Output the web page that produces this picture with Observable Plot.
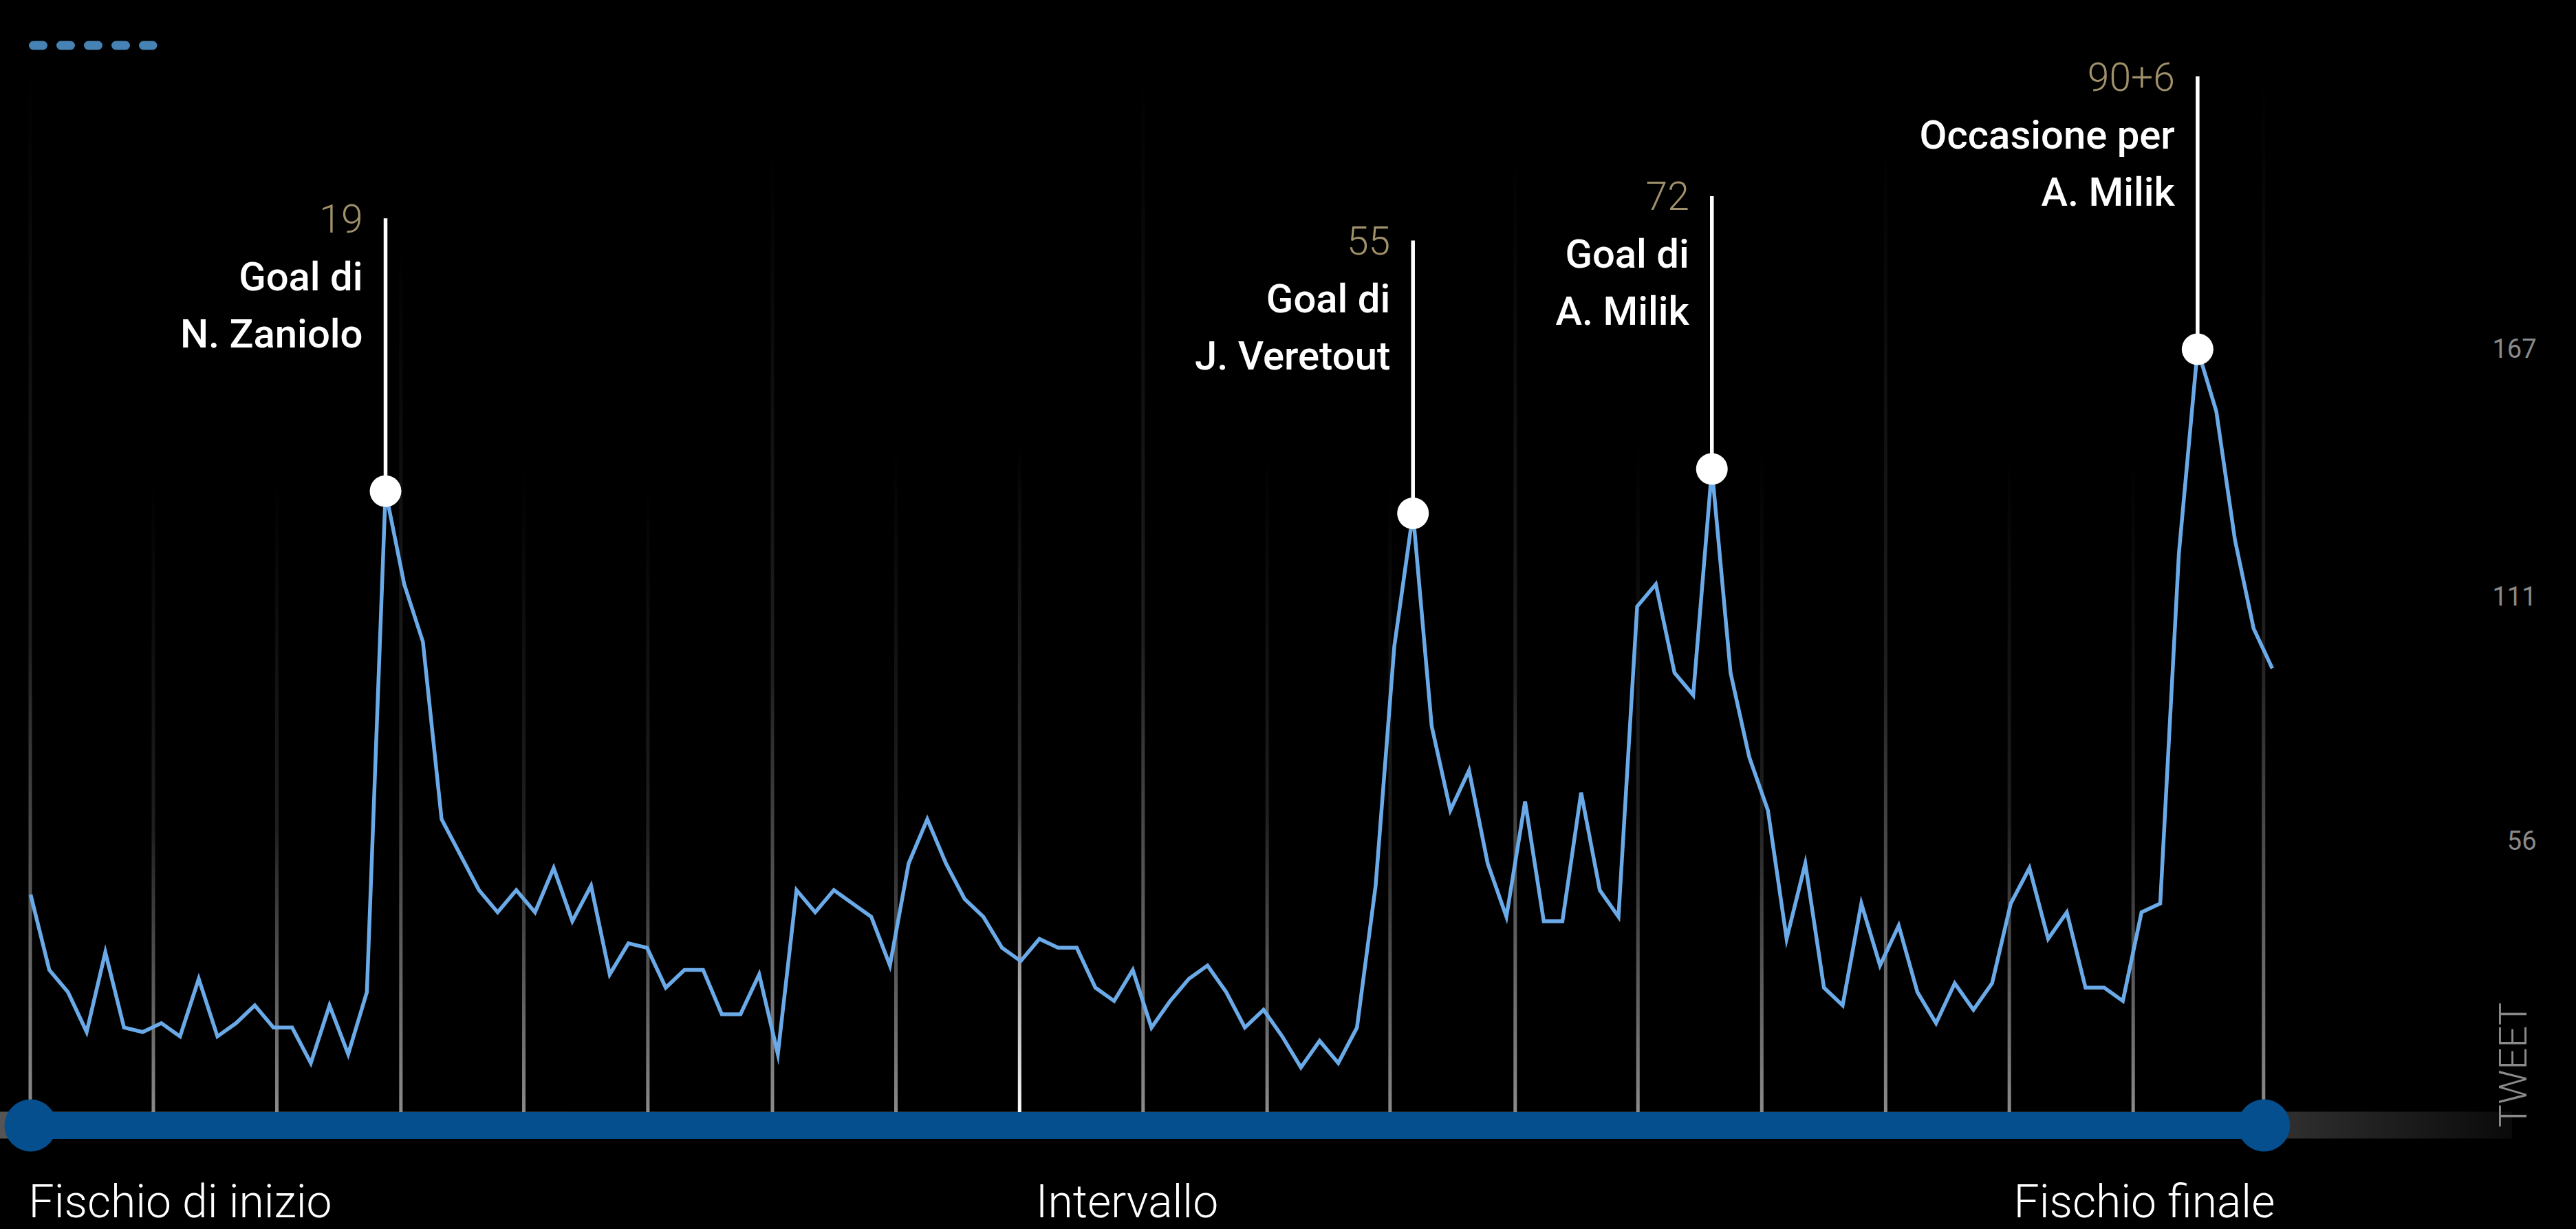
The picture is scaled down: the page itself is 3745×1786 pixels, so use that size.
<!DOCTYPE html>
<html>
<head>
<meta charset="utf-8">
<script src="https://cdn.jsdelivr.net/npm/d3@7"></script>
<script src="https://cdn.jsdelivr.net/npm/@observablehq/plot@0.6"></script>
<style>
  html, body { margin: 0; padding: 0; background: #000; }
  body { width: 3745px; height: 1786px; position: relative; overflow: hidden; font-family: Roboto, sans-serif; }
  #chart { position: absolute; left: 0; top: 0; }
  #legend { position: absolute; left: 0; top: 0; }
</style>
</head>
<body>
<svg width="0" height="0" style="position:absolute">
  <defs>
    <linearGradient id="guideGray" x1="0" y1="0" x2="0" y2="1">
      <stop offset="0" stop-color="#8c8c8c" stop-opacity="0"/>
      <stop offset="0.55" stop-color="#8c8c8c" stop-opacity="0.22"/>
      <stop offset="1" stop-color="#8c8c8c" stop-opacity="1"/>
    </linearGradient>
    <linearGradient id="guideWhite" x1="0" y1="0" x2="0" y2="1">
      <stop offset="0" stop-color="#ffffff" stop-opacity="0"/>
      <stop offset="0.55" stop-color="#ffffff" stop-opacity="0.22"/>
      <stop offset="1" stop-color="#ffffff" stop-opacity="1"/>
    </linearGradient>
    <linearGradient id="trackGrad" x1="0" y1="0" x2="1" y2="0">
      <stop offset="0" stop-color="#555555"/>
      <stop offset="0.9" stop-color="#333333"/>
      <stop offset="1" stop-color="#0a0a0a"/>
    </linearGradient>
  </defs>
</svg>
<div id="chart"></div>
<svg id="legend" width="260" height="100">
  <line x1="48.5" y1="66" x2="222" y2="66" stroke="#4682b4" stroke-width="13" stroke-linecap="round" stroke-dasharray="14 26"/>
</svg>
<script>
// Tweets per minute of the live feed (index = minute of feed)
const tweets = [
  44, 27, 22, 13, 31, 14, 13, 15, 12, 25, 12, 15, 19, 14, 14, 6, 19, 8, 22, 135,
  114, 101, 61, 53, 45, 40, 45, 40, 50, 38, 46, 26, 33, 32, 23, 27, 27, 17, 17, 26,
  8, 45, 40, 45, 42, 39, 28, 51, 61, 51, 43, 39, 32, 29, 34, 32, 32, 23, 20, 27,
  14, 20, 25, 28, 22, 14, 18, 12, 5, 11, 6, 14, 46, 100, 130, 82, 63, 72, 51, 39,
  65, 38, 38, 67, 45, 39, 109, 114, 94, 89, 140, 94, 75, 63, 34, 51, 23, 19, 42, 28,
  37, 22, 15, 24, 18, 24, 42, 50, 34, 40, 23, 23, 20, 40, 42, 121, 167, 153, 124, 104,
  95
];

// Key moments
const eventTimes   = [19, 74, 90, 116];
const eventMinutes = ["19", "55", "72", "90+6"];
const eventLine1   = ["Goal di", "Goal di", "Goal di", "Occasione per"];
const eventLine2   = ["N. Zaniolo", "J. Veretout", "A. Milik", "A. Milik"];

// Background guide lines (position on the feed, height in tweets)
const guideTimes = [0, 6.59, 13.2, 19.84, 26.42, 33.06, 39.73, 46.34, 52.96, 59.57, 66.21, 72.79, 79.49, 86.06, 92.69, 99.32, 105.94, 112.57, 119.55];
const guideTops  = [230, 137, 137, 192, 140, 137, 212, 145, 146, 230, 143, 137, 212, 146, 145, 215, 143, 143, 230];

// Match phases on the timeline
const phaseNames = ["Fischio di inizio", "Intervallo", "Fischio finale"];
const phaseTimes = [0, 52.96, 119.55];

// Y tick labels
const yTicks = [56, 111, 167];

const events = eventTimes.map((t, i) => ({t, v: tweets[t], minute: eventMinutes[i], line1: eventLine1[i], line2: eventLine2[i]}));
const guides = guideTimes.map((t, i) => ({t, top: guideTops[i], white: t === phaseTimes[1]}));
const phases = phaseNames.map((name, i) => ({name, t: phaseTimes[i]}));
const match = [{start: phaseTimes[0], end: phaseTimes[2]}];

const FONT = "Roboto, sans-serif";
const BLUE = "#054f8e";

const chart = Plot.plot({
  width: 3745,
  height: 1786,
  marginLeft: 44,
  marginRight: 442,
  marginTop: 507,
  marginBottom: 203,
  style: {background: "transparent", color: "white", fontFamily: FONT},
  x: {domain: [0, 120], axis: null},
  y: {domain: [0, 167], axis: null},
  marks: [
    // gray track behind the timeline
    Plot.rect(match, {x1: "start", x2: "end", y1: 0, y2: 0, dy: 52, insetTop: -19.5, insetBottom: -19.5, insetLeft: -44, insetRight: -361, fill: "url(#trackGrad)"}),
    // guide lines
    Plot.rect(guides.filter(d => !d.white), {x1: "t", x2: "t", y1: 0, y2: "top", insetLeft: -2.5, insetRight: -2.5, insetBottom: -40, fill: "url(#guideGray)"}),
    Plot.rect(guides.filter(d => d.white), {x1: "t", x2: "t", y1: 0, y2: "top", insetLeft: -2.5, insetRight: -2.5, insetBottom: -40, fill: "url(#guideWhite)"}),
    // blue timeline
    Plot.link(match, {x1: "start", x2: "end", y1: 0, y2: 0, dy: 52, stroke: BLUE, strokeWidth: 39, strokeLinecap: "butt"}),
    Plot.dot(phases.filter((d, i) => i !== 1), {x: "t", y: 0, dy: 52, r: 38, fill: BLUE, stroke: null}),
    // tweets line
    Plot.lineY(tweets, {stroke: "#6aaae8", strokeWidth: 5.5, strokeLinejoin: "miter", strokeMiterlimit: 6, strokeLinecap: "butt"}),
    // event annotations
    Plot.ruleX(events, {x: "t", y1: "v", y2: "v", insetTop: -396, stroke: "white", strokeWidth: 5.5}),
    Plot.dot(events, {x: "t", y: "v", r: 23, fill: "white", stroke: null}),
    Plot.text(events, {x: "t", y: "v", text: "minute", dx: -33, dy: -376, textAnchor: "end", lineAnchor: "bottom", fill: "#a0916a", fontSize: 57, fontWeight: 300, fontFamily: FONT}),
    Plot.text(events, {x: "t", y: "v", text: "line1", dx: -33, dy: -292, textAnchor: "end", lineAnchor: "bottom", fill: "white", fontSize: 58, fontWeight: 500, fontFamily: FONT}),
    Plot.text(events, {x: "t", y: "v", text: "line2", dx: -33, dy: -209, textAnchor: "end", lineAnchor: "bottom", fill: "white", fontSize: 58, fontWeight: 500, fontFamily: FONT}),
    // phase labels
    Plot.text(phases.filter((d, i) => i === 0), {x: "t", y: 0, text: "name", dx: -3, dy: 185, textAnchor: "start", lineAnchor: "bottom", fill: "white", fontSize: 66, fontWeight: 300, fontFamily: FONT}),
    Plot.text(phases.filter((d, i) => i === 1), {x: "t", y: 0, text: "name", dx: 23, dy: 185, textAnchor: "start", lineAnchor: "bottom", fill: "white", fontSize: 66, fontWeight: 300, fontFamily: FONT}),
    Plot.text(phases.filter((d, i) => i === 2), {x: "t", y: 0, text: "name", dx: 16, dy: 185, textAnchor: "end", lineAnchor: "bottom", fill: "white", fontSize: 66, fontWeight: 300, fontFamily: FONT}),
    // y tick labels
    Plot.text(yTicks, {y: d => d, text: d => String(d), frameAnchor: "right", dx: 384, textAnchor: "end", fill: "#8a8a8a", fontSize: 38, fontFamily: FONT}),
    // axis title
    Plot.text(["TWEET"], {text: d => d, frameAnchor: "bottom-right", rotate: -90, dx: 369, dy: 55, textAnchor: "start", lineAnchor: "bottom", fill: "#8a8a8a", fontSize: 56, fontWeight: 300, fontFamily: FONT})
  ]
});
document.getElementById("chart").appendChild(chart);
</script>
</body>
</html>
